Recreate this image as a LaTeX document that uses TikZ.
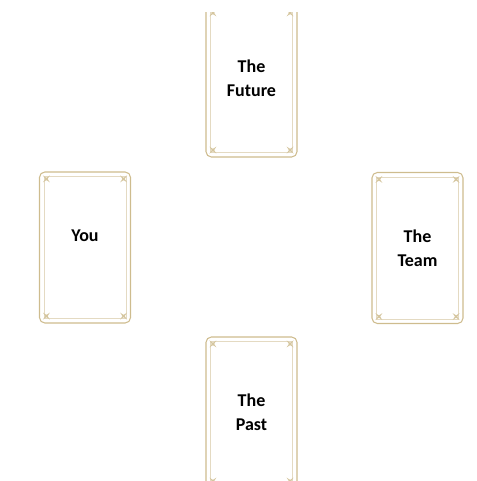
\documentclass[tikz,border=0pt]{standalone}
\usepackage{fontspec}
\setmainfont{Carlito}
\definecolor{cardgold}{RGB}{206,188,142}
\definecolor{framegold}{RGB}{228,218,194}
\tikzset{
  card/.style={draw=cardgold, line width=0.8pt, rounded corners=4pt,
    minimum width=68.25pt, minimum height=113.25pt, inner sep=0pt},
  cardtext/.style={font=\fontsize{13.5}{18}\selectfont\bfseries, align=center},
}
% inner frame and corner stars of a card
\newcommand\cardframe[1]{%
  \draw [framegold, line width=0.5pt] ([shift={(3.8pt,3.8pt)}]#1.north west) rectangle ([shift={(-3.8pt,-3.8pt)}]#1.south east);
  \foreach \c/\dx/\dy in {north west/1/1, north east/-1/1, south west/1/-1, south east/-1/-1}
    \fill [cardgold!85] ([shift={(\dx*5.6pt,\dy*5.6pt)}]#1.\c) +(-3.5,-3.5) -- +(0,-1.2) -- +(3.5,-3.5) -- +(1.2,0) -- +(3.5,3.5) -- +(0,1.2) -- +(-3.5,3.5) -- +(-1.2,0) -- cycle;
}
\begin{document}
\begin{tikzpicture}[x=0.75pt,y=0.75pt,yscale=-1,xscale=1]
\useasboundingbox (0,0) rectangle (476,481);
\begin{scope}
\clip (0,13) rectangle (476,481);

% Cards
\node [card] (future) at (251.5,81.5) {};
\node [card] (you) at (85,247.5) {};
\node [card] (team) at (417.5,248) {};
\node [card] (past) at (251.5,412.5) {};
\cardframe{future}
\cardframe{you}
\cardframe{team}
\cardframe{past}

% Text Node
\node [cardtext] (futuretxt) at ([yshift=-2.5pt]future.center) {The\\Future};
% Text Node
\node [cardtext] (youtxt) at ([yshift=-9pt]you.center) {You};
% Text Node
\node [cardtext] (teamtxt) at (team.center) {The\\Team};
% Text Node
\node [cardtext] (pasttxt) at (past.center) {The\\Past};
\end{scope}
\end{tikzpicture}
\end{document}
